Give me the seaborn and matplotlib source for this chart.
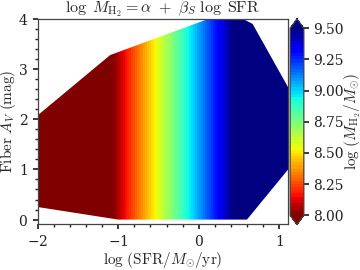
import numpy as np
import seaborn as sns
import matplotlib
matplotlib.use("Agg")
import matplotlib.pyplot as plt
from matplotlib.patches import Polygon
from matplotlib.ticker import AutoMinorLocator, MultipleLocator

# model: log M_H2 = alpha + beta_S * log SFR
ALPHA = 9.07
BETA_S = 1.0

# outline of the sampled region (log SFR, fiber A_V)
hull_logsfr = [-2.0, -1.1, 0.12, 0.55, 0.67, 1.25, 1.25, 0.6, -1.0, -2.0]
hull_av = [2.08, 3.28, 4.0, 4.0, 3.9, 2.24, 1.27, 0.0, 0.0, 0.25]

cbar_ticks = [8.00, 8.25, 8.50, 8.75, 9.00, 9.25, 9.50]

sns.set_theme(style="ticks")
plt.rcParams.update({
    "font.family": ["DejaVu Serif"],
    "mathtext.fontset": "cm",
    "axes.formatter.use_mathtext": True,
    "font.size": 10,
    "axes.edgecolor": "#444444",
    "axes.linewidth": 0.9,
    "xtick.color": "#222222",
    "ytick.color": "#222222",
    "xtick.labelsize": 10,
    "ytick.labelsize": 10,
    "xtick.major.size": 3.5,
    "ytick.major.size": 3.5,
    "xtick.minor.size": 2,
    "ytick.minor.size": 2,
})

fig = plt.figure(figsize=(3.6, 2.7), dpi=100)
ax = fig.add_axes([0.105, 0.17, 0.695, 0.76])
cax = fig.add_axes([0.806, 0.168, 0.038, 0.762])

xs = np.linspace(-2.3, 1.4, 400)
ys = np.linspace(-0.5, 4.5, 50)
X, Y = np.meshgrid(xs, ys)
Z = ALPHA + BETA_S * X

levels = np.linspace(8.0, 9.5, 61)
cmap = sns.color_palette("jet_r", as_cmap=True)
cs = ax.contourf(X, Y, Z, levels=levels, cmap=cmap, extend="both")

hull = Polygon(np.column_stack([hull_logsfr, hull_av]), closed=True,
               facecolor="none", edgecolor="none", transform=ax.transData)
ax.add_patch(hull)
cs.set_clip_path(hull)

ax.set_xlim(-2.0, 1.11)
ax.set_ylim(-0.09, 4.0)
ax.xaxis.set_major_locator(MultipleLocator(1))
ax.yaxis.set_major_locator(MultipleLocator(1))
ax.xaxis.set_minor_locator(AutoMinorLocator(5))
ax.yaxis.set_minor_locator(AutoMinorLocator(5))
ax.set_xlabel(r"$\log\,(\mathrm{SFR}/M_{\odot}/\mathrm{yr})$", fontsize=11, labelpad=1)
ax.set_ylabel(r"$\mathrm{Fiber}\ A_V\ \mathrm{(mag)}$", fontsize=11, labelpad=1)
ax.yaxis.set_label_coords(-0.08, 0.5)
ax.set_title(r"$\log\ M_{\rm H_2} = \alpha\ +\ \beta_S\ \log\ \mathrm{SFR}$",
             fontsize=11.5, pad=3)

cb = fig.colorbar(cs, cax=cax, ticks=cbar_ticks, extend="both")
cb.ax.set_yticklabels(["%.2f" % t for t in cbar_ticks])
cb.set_label(r"$\log\,(M_{\rm H_2}/M_{\odot})$", fontsize=11)
cb.ax.yaxis.set_label_coords(3.8, 0.5)
cb.outline.set_edgecolor("#444444")

fig.savefig("out.png", dpi=100)
